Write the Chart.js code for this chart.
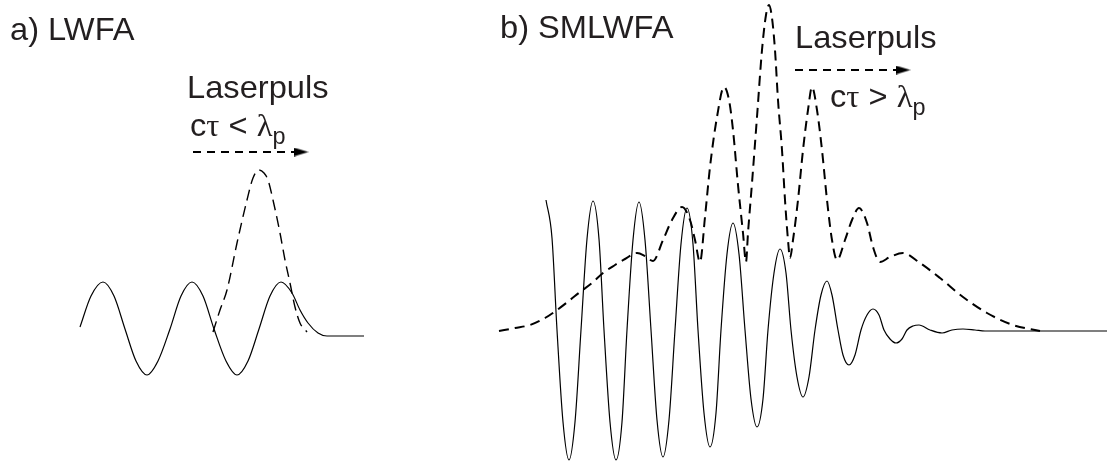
<!DOCTYPE html>
<html>
<head>
<meta charset="utf-8">
<script src="https://cdn.jsdelivr.net/npm/chart.js@4.4.1/dist/chart.umd.min.js"></script>
<style>
  body { margin: 0; background: #fff; }
  #wrap { position: relative; width: 1107px; height: 464px; }
  .lbl { position: absolute; font-family: "Liberation Sans", Arial, sans-serif; font-size: 32px; line-height: 32px;
         color: #231f20; white-space: nowrap; transform-origin: 0 0; transform: scaleX(1.02); }
  .gr { font-family: "Liberation Serif", "DejaVu Serif", serif; }
  .lbl sub { font-size: 23px; position: relative; top: 8px; vertical-align: baseline; }
</style>
</head>
<body>
<div id="wrap">
  <canvas id="sketch"></canvas>
  <div class="lbl" style="left:10px; top:13px;">a) LWFA</div>
  <div class="lbl" style="left:187px; top:71px;">Laserpuls</div>
  <div class="lbl" style="left:190px; top:109px;">c<span class="gr">τ</span> &lt; <span class="gr">λ</span><sub>p</sub></div>
  <div class="lbl" style="left:500px; top:11px;">b) SMLWFA</div>
  <div class="lbl" style="left:795px; top:21px;">Laserpuls</div>
  <div class="lbl" style="left:830px; top:80px;">c<span class="gr">τ</span> &gt; <span class="gr">λ</span><sub>p</sub></div>
</div>
<script>
"use strict";

// a) LWFA: plasma wake (solid) and short laser pulse (dashed)
var lwfaWakeX = [80, 91, 103, 114, 125, 136, 147, 158, 170, 181, 192, 203, 214, 226, 237, 248, 259, 270, 281, 292, 300, 308, 318, 327, 364];
var lwfaWakeY = [3, 34, 48, 34, 1, -31, -45, -31, 1, 34, 48, 34, 1, -31, -45, -31, 1, 34, 48, 37, 20, 7, -3, -6, -6];
var lwfaPulseX = [213, 220, 227, 237, 247, 253, 259, 264, 268, 273, 280, 285, 290, 295, 300, 307];
var lwfaPulseY = [-2, 20, 40, 87, 130, 152, 160, 157, 150, 130, 97, 70, 47, 23, 7, -2];

// b) SMLWFA: self-modulated wake (solid) and long modulated pulse (dashed)
var smWakeX = [546, 552, 557, 563, 569, 575, 581, 587, 593, 599, 604, 610, 616, 622, 627, 633, 639, 645, 651, 657,
               663, 669, 675, 681, 687, 693, 698, 704, 710, 716, 721, 727, 733, 739, 745, 751, 757, 763, 768, 774,
               780, 786, 791, 797, 803, 809, 815, 821, 827, 832, 838, 843, 849, 855, 861, 867, 873, 879, 884, 890,
               896, 902, 907, 913, 919, 930, 942, 952, 963, 975, 985, 1107];
var smWakeY = [130, 92, 0, -92, -130, -92, 0, 91, 129, 91, 0, -92, -130, -92, 0, 90, 128, 90, 0, -90,
               -127, -90, 0, 86, 122, 86, 0, -83, -117, -83, 0, 76, 107, 76, 0, -69, -97, -69, 0, 57,
               81, 57, 0, -47, -67, -47, 0, 35, 49, 35, 0, -25, -35, -25, 0, 15, 21, 15, 0, -9,
               -13, -9, 0, 4, 5, 0, -3, 0, 1, 0, -1, -1];
var smPulseX = [499, 515, 530, 545, 557, 570, 580, 592, 603, 615, 625, 637, 645, 653, 663, 672, 682, 690, 695, 700,
                705, 710, 717, 724, 729, 733, 738, 743, 746, 748, 752, 757, 762, 766, 769, 772, 775, 778, 782, 785,
                788, 790, 793, 798, 803, 808, 812, 817, 822, 827, 832, 837, 845, 852, 859, 867, 873, 880, 890, 903,
                920, 940, 963, 987, 1013, 1040];
var smPulseY = [-1, 2, 5, 12, 20, 30, 38, 47, 57, 65, 71, 77, 74, 69, 90, 110, 123, 110, 90, 68,
                113, 163, 213, 243, 230, 200, 145, 97, 68, 97, 147, 213, 280, 315, 325, 312, 280, 230, 180, 130,
                90, 72, 90, 130, 180, 220, 243, 220, 180, 130, 90, 70, 90, 110, 122, 107, 83, 68, 73, 77,
                67, 52, 33, 17, 5, -1];

// propagation arrows (start, arrowhead)
var arrowAX = [193, 301];
var arrowAY = [178, 178];
var arrowBX = [795, 903];
var arrowBY = [260, 260];

function series(xs, ys) {
    return xs.map(function (x, i) { return { x: x, y: ys[i] }; });
}

// small filled arrowhead used as point style
var head = document.createElement("canvas");
head.width = 15;
head.height = 9;
var hc = head.getContext("2d");
hc.fillStyle = "#000";
hc.beginPath();
hc.moveTo(0, 0);
hc.lineTo(15, 4.5);
hc.lineTo(0, 9);
hc.closePath();
hc.fill();

function arrow(xs, ys) {
    return { data: series(xs, ys), borderColor: "#000", borderWidth: 1.8, borderDash: [8, 6],
             pointStyle: head, pointRadius: [0, 6] };
}

var ctx = document.getElementById("sketch").getContext("2d");
new Chart(ctx, {
    type: "line",
    data: {
        datasets: [
            { data: series(lwfaWakeX, lwfaWakeY), borderColor: "#000", borderWidth: 1.2 },
            { data: series(lwfaPulseX, lwfaPulseY), borderColor: "#000", borderWidth: 1.4, borderDash: [11, 6] },
            { data: series(smWakeX, smWakeY), borderColor: "#000", borderWidth: 1.2 },
            { data: series(smPulseX, smPulseY), borderColor: "#000", borderWidth: 2, borderDash: [10, 6] },
            arrow(arrowAX, arrowAY),
            arrow(arrowBX, arrowBY)
        ]
    },
    options: {
        responsive: true,
        maintainAspectRatio: false,
        animation: false,
        events: [],
        layout: { padding: 0, autoPadding: false },
        plugins: { legend: { display: false }, tooltip: { enabled: false } },
        elements: {
            point: { radius: 0 },
            line: { cubicInterpolationMode: "monotone", fill: false }
        },
        scales: {
            x: { type: "linear", min: 0, max: 1107, display: false },
            y: { min: -134, max: 330, display: false }
        }
    }
});
</script>
</body>
</html>
